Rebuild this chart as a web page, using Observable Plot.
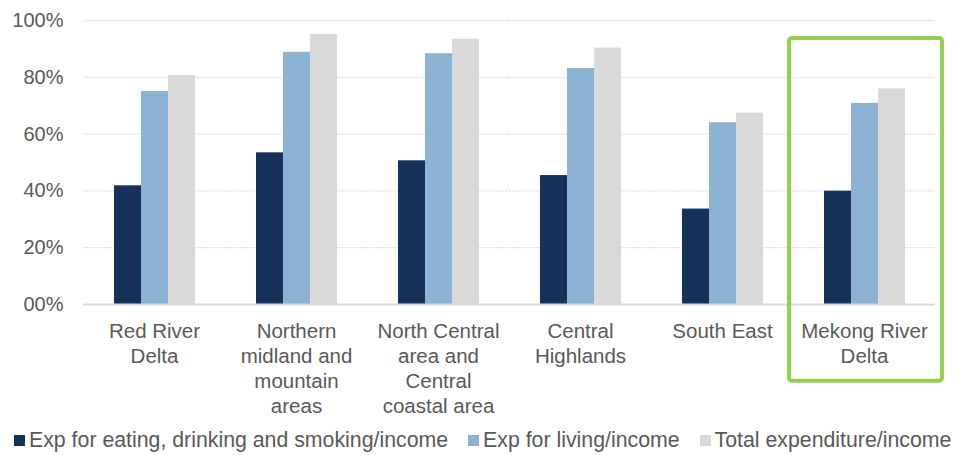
<!DOCTYPE html>
<html>
<head>
<meta charset="utf-8">
<script src="https://cdn.jsdelivr.net/npm/d3@7"></script>
<script src="https://cdn.jsdelivr.net/npm/@observablehq/plot@0.6"></script>
<style>
  html, body { margin: 0; padding: 0; background: #fff; }
  body { width: 966px; height: 455px; overflow: hidden; font-family: "Liberation Sans", Arial, sans-serif; }
  #legend { display: flex; align-items: center; height: 35px; padding-top: 3px; padding-left: 14px; font-size: 21.3px; color: #595959; white-space: nowrap; }
  .item { display: flex; align-items: center; margin-right: 20px; }
  .sw { width: 11px; height: 11px; margin-right: 4px; }
</style>
</head>
<body>
<div id="chart"></div>
<div id="legend"></div>
<script>
const regions = [
  "Red River\nDelta",
  "Northern\nmidland and\nmountain\nareas",
  "North Central\narea and\nCentral\ncoastal area",
  "Central\nHighlands",
  "South East",
  "Mekong River\nDelta"
];
const seriesNames = [
  "Exp for eating, drinking and smoking/income",
  "Exp for living/income",
  "Total expenditure/income"
];
const eatingValues = [41.8, 53.4, 50.6, 45.4, 33.6, 39.9];
const livingValues = [75.0, 88.8, 88.3, 83.1, 64.0, 70.8];
const totalValues  = [80.6, 95.1, 93.4, 90.3, 67.4, 75.9];
const seriesColors = ["#17325a", "#8cb2d4", "#d9d9d9"];
const yTicks = [0, 20, 40, 60, 80, 100];
const yTickLabels = ["00%", "20%", "40%", "60%", "80%", "100%"];
const highlighted = "Mekong River\nDelta";

const table = [];
regions.forEach((r, i) => {
  [eatingValues, livingValues, totalValues].forEach((arr, j) => {
    table.push({region: r, series: seriesNames[j], value: arr[i]});
  });
});

const plot = Plot.plot({
  width: 966,
  height: 420,
  marginLeft: 83,
  marginRight: 31,
  marginTop: 20,
  marginBottom: 116,
  style: {fontFamily: "'Liberation Sans', Arial, sans-serif", fontSize: "20px", color: "#595959", overflow: "visible"},
  fx: {domain: regions, padding: 0, label: null},
  x: {domain: seriesNames, paddingInner: 0, paddingOuter: 1.1, axis: null},
  y: {domain: [0, 100], label: null},
  color: {domain: seriesNames, range: seriesColors},
  marks: [
    Plot.ruleY(yTicks.filter(d => d > 0), {stroke: "#d9d9d9", strokeWidth: 1, strokeDasharray: "2,1"}),
    Plot.barY(table, {fx: "region", x: "series", y: "value", fill: "series"}),
    Plot.ruleY([0], {stroke: "#d9d9d9", strokeWidth: 2}),
    Plot.axisY({ticks: yTicks, tickFormat: d => yTickLabels[yTicks.indexOf(d)], tickSize: 0, tickPadding: 20, fontSize: 20, fill: "#595959"}),
    Plot.axisFx({anchor: "bottom", tickSize: 0, tickPadding: 16, fontSize: 20.5, lineHeight: 1.22, fill: "#595959", label: null}),
    Plot.rect([{region: highlighted}], {fx: "region", y1: -27, y2: 93.7, insetLeft: -4, insetRight: -7, fill: "none", stroke: "#92d050", strokeWidth: 4, rx: 3})
  ]
});
document.getElementById("chart").appendChild(plot);

const legend = document.getElementById("legend");
seriesNames.forEach((s, i) => {
  const it = document.createElement("div");
  it.className = "item";
  const sw = document.createElement("div");
  sw.className = "sw";
  sw.style.background = seriesColors[i];
  const t = document.createElement("span");
  t.textContent = s;
  it.appendChild(sw); it.appendChild(t);
  legend.appendChild(it);
});
</script>
</body>
</html>
